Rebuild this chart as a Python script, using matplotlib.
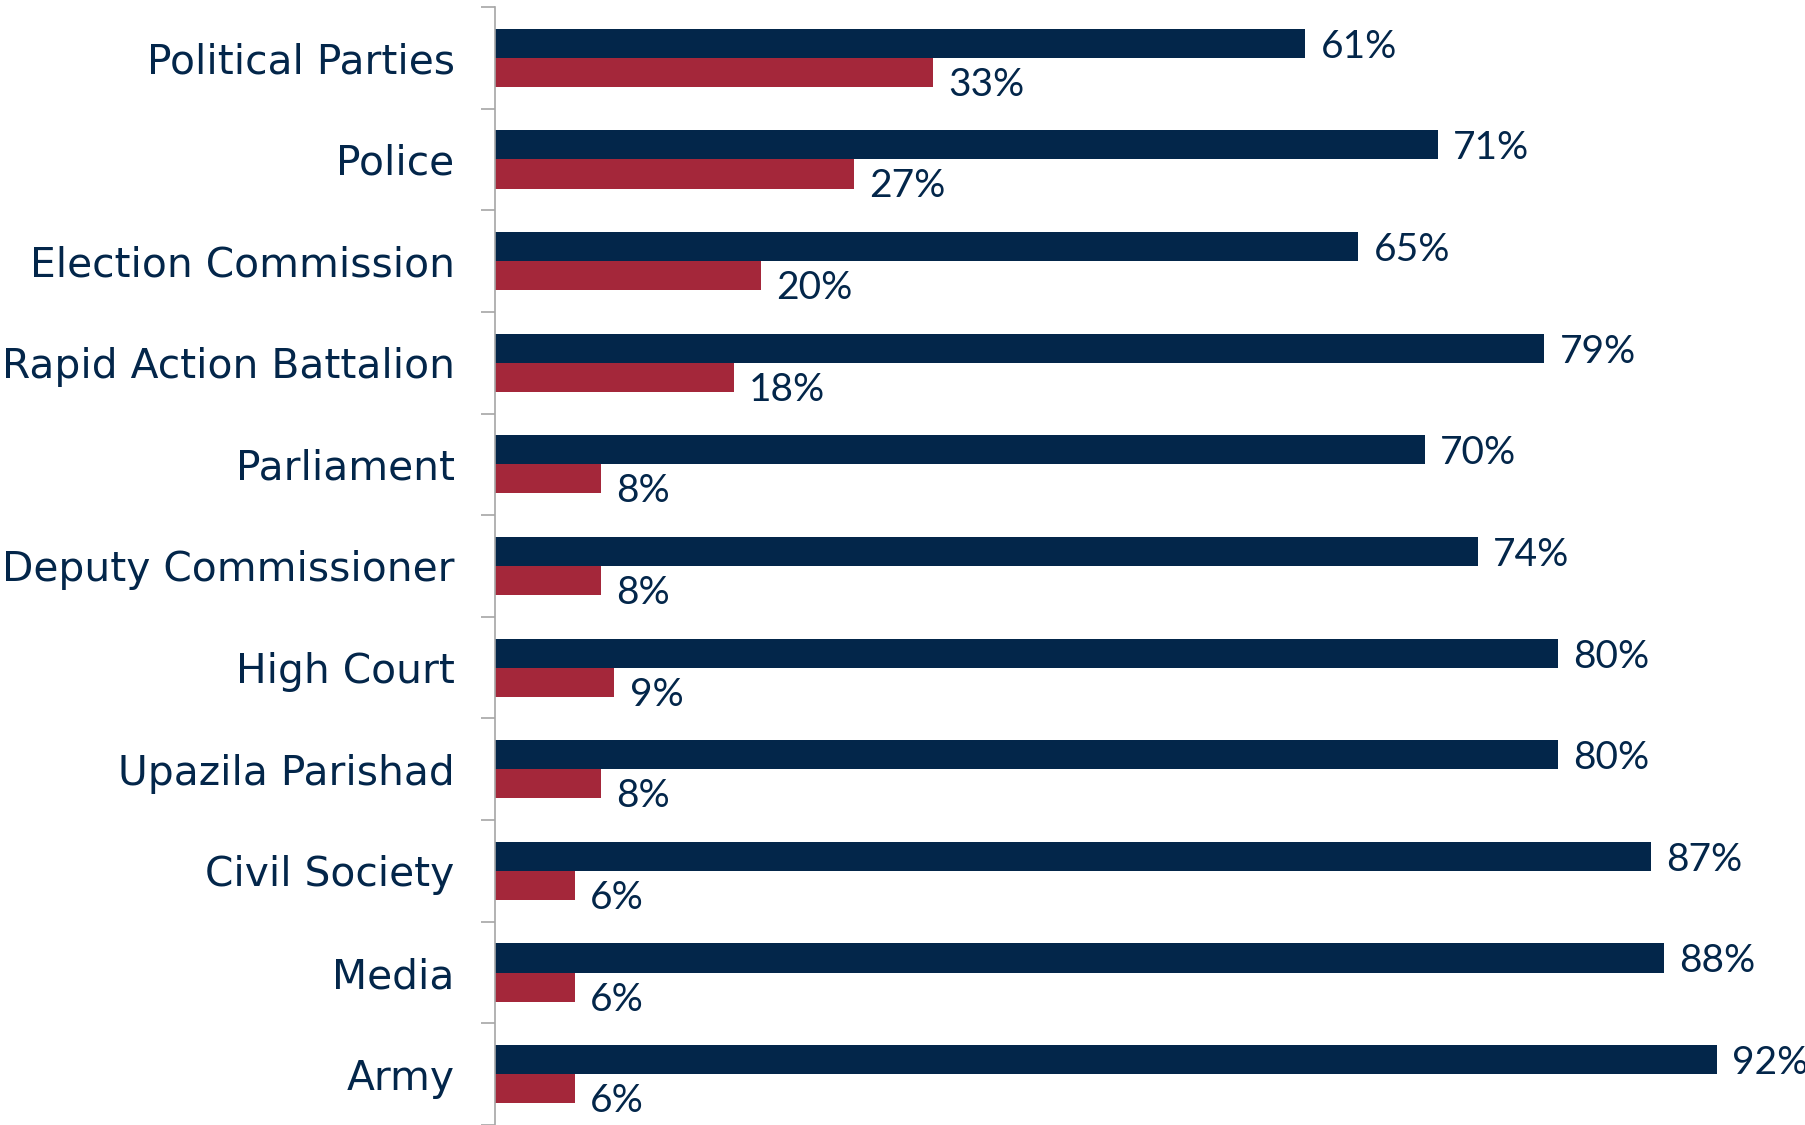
import numpy as np
import matplotlib.pyplot as plt

categories = ["Political Parties", "Police", "Election Commission",
              "Rapid Action Battalion", "Parliament", "Deputy Commissioner",
              "High Court", "Upazila Parishad", "Civil Society", "Media", "Army"]
navy_values = [61, 71, 65, 79, 70, 74, 80, 80, 87, 88, 92]
red_values = [33, 27, 20, 18, 8, 8, 9, 8, 6, 6, 6]

navy = "#03264A"
red = "#A4273A"
label_font = ["Lato", "DejaVu Sans"]

fig = plt.figure(figsize=(18.06, 11.25), dpi=100)
ax = fig.add_axes([0.274, 0.0, 0.726, 0.9938])

y = np.arange(len(categories))
h = 0.286
ax.barh(y - h / 2, navy_values, height=h, color=navy)
ax.barh(y + h / 2, red_values, height=h, color=red)

for yi, v in zip(y, navy_values):
    ax.annotate(f"{v}%", (v, yi - h / 2), xytext=(11, -2.5), textcoords="offset points",
                va="center", ha="left", fontsize=28, color=navy, family=label_font)
for yi, v in zip(y, red_values):
    ax.annotate(f"{v}%", (v, yi + h / 2), xytext=(11, -9), textcoords="offset points",
                va="center", ha="left", fontsize=28, color=navy, family=label_font)

ax.set_xlim(0, 98.7)
ax.set_ylim(len(categories) - 0.5, -0.5)
ax.set_xticks([])
ax.set_yticks(y)
ax.set_yticklabels(categories, fontsize=29.3, color=navy)
ax.set_yticks(np.arange(len(categories) + 1) - 0.5, minor=True)
ax.tick_params(axis="y", which="major", length=0, pad=29)
ax.tick_params(axis="y", which="minor", length=10, width=1.2, color="#A6A6A6")

for side in ["top", "right", "bottom"]:
    ax.spines[side].set_visible(False)
ax.spines["left"].set_color("#A6A6A6")
ax.spines["left"].set_linewidth(1.2)

fig.savefig("out.png", dpi=100)
